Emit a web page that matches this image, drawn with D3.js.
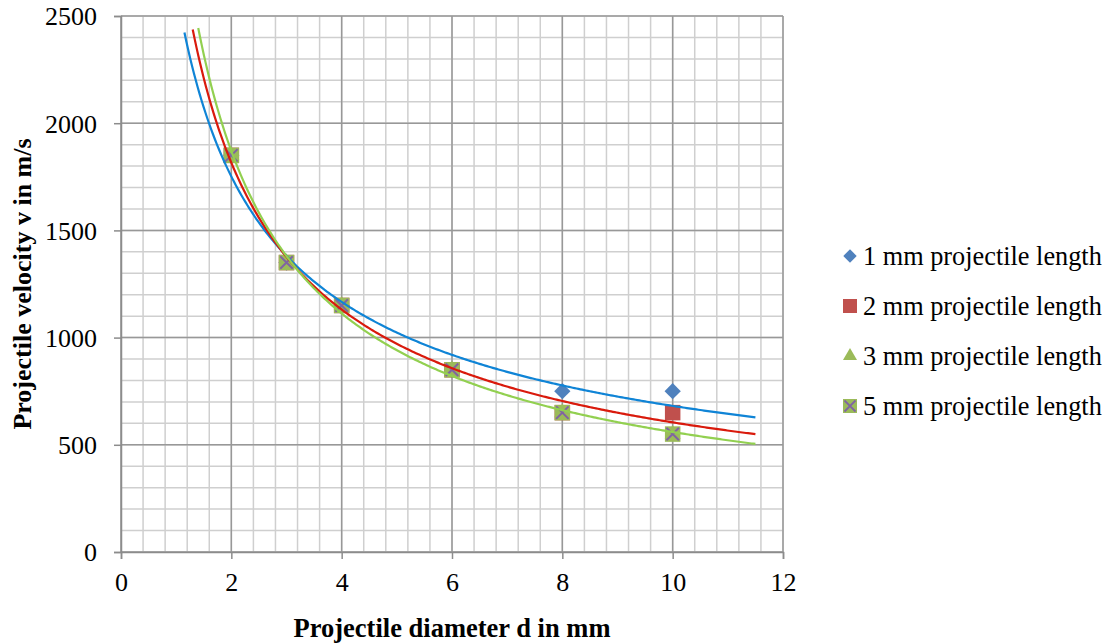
<!DOCTYPE html>
<html>
<head>
<meta charset="utf-8">
<script src="https://cdn.jsdelivr.net/npm/d3@7"></script>
<style>
  html, body { margin: 0; padding: 0; background: #fff; }
  svg { display: block; }
  svg text { font-family: "Liberation Serif", "Times New Roman", serif !important; fill: #000; }
</style>
</head>
<body>
<svg id="chart" width="1112" height="643"></svg>
<script>
// ---- Data ----
const diameters = [2, 3, 4, 6, 8, 10];
const v1mm = [1850, 1350, 1150, 850, 750, 750];
const v2mm = [1850, 1350, 1150, 850, 650, 650];
const v3mm = [1850, 1350, 1150, 850, 650, 550];
const v5mm = [1850, 1350, 1150, 850, 650, 550];
const seriesNames = ["1 mm projectile length", "2 mm projectile length", "3 mm projectile length", "5 mm projectile length"];
const xTicks = [0, 2, 4, 6, 8, 10, 12];
const yTicks = [0, 500, 1000, 1500, 2000, 2500];
// power trendline extents (x from/to) for series 1, 2, 3
const trendFrom = [1.15, 1.3, 1.4];
const trendTo = [11.5, 11.5, 11.5];

// ---- Layout ----
const svg = d3.select("#chart");
const pL = 121, pT = 16, pR = 783, pB = 552;
const x = d3.scaleLinear().domain([0, 12]).range([pL, pR]);
const y = d3.scaleLinear().domain([0, 2500]).range([pB, pT]);

// minor grid
const g = svg.append("g");
const minorX = d3.range(0, 12.0001, 0.4);
const minorY = d3.range(0, 2500.1, 100);
g.selectAll(".mx").data(minorX).enter().append("line")
  .attr("x1", d => x(d)).attr("x2", d => x(d)).attr("y1", pT).attr("y2", pB)
  .attr("stroke", "#cfcfcf").attr("stroke-width", 1.5);
g.selectAll(".my").data(minorY).enter().append("line")
  .attr("y1", d => y(d)).attr("y2", d => y(d)).attr("x1", pL).attr("x2", pR)
  .attr("stroke", "#cfcfcf").attr("stroke-width", 1.5);
// major grid
g.selectAll(".Mx").data(xTicks).enter().append("line")
  .attr("x1", d => x(d)).attr("x2", d => x(d)).attr("y1", pT).attr("y2", pB)
  .attr("stroke", "#989898").attr("stroke-width", 1.5);
g.selectAll(".My").data(yTicks).enter().append("line")
  .attr("y1", d => y(d)).attr("y2", d => y(d)).attr("x1", pL).attr("x2", pR)
  .attr("stroke", "#989898").attr("stroke-width", 1.5);

// axes
const xAxis = d3.axisBottom(x).tickValues(xTicks).tickSize(7).tickPadding(14).tickFormat(d3.format("d"));
const yAxis = d3.axisLeft(y).tickValues(yTicks).tickSize(7).tickPadding(17).tickFormat(d3.format("d"));
const gx = svg.append("g").attr("transform", `translate(0,${pB})`).call(xAxis);
const gy = svg.append("g").attr("transform", `translate(${pL},0)`).call(yAxis);
[gx, gy].forEach(a => {
  a.attr("font-family", "Liberation Serif").attr("font-size", 26);
  a.select(".domain").attr("stroke", "#8c8c8c").attr("stroke-width", 1.5);
  a.selectAll(".tick line").attr("stroke", "#8c8c8c").attr("stroke-width", 1.5);
  a.selectAll("text").style("font-family", "'Liberation Serif', serif").attr("font-size", 26).attr("fill", "#000");
});
gy.selectAll(".tick text").attr("dy", "0.34em");

// power trendlines (least-squares in log-log, like a spreadsheet power trendline)
function powerFit(xs, ys) {
  const lx = xs.map(Math.log), ly = ys.map(Math.log);
  const n = xs.length;
  const sx = d3.sum(lx), sy = d3.sum(ly);
  const sxx = d3.sum(lx, d => d * d);
  const sxy = d3.sum(lx.map((d, i) => d * ly[i]));
  const b = (n * sxy - sx * sy) / (n * sxx - sx * sx);
  const a = Math.exp((sy - b * sx) / n);
  return xx => a * Math.pow(xx, b);
}

// markers
const s = 15.5;
const mk = svg.append("g");
// series 1: blue diamonds
mk.selectAll(".d1").data(diameters).enter().append("path")
  .attr("d", d3.symbol().type(d3.symbolSquare).size(11.5 * 11.5))
  .attr("transform", (d, i) => `translate(${x(d)},${y(v1mm[i])}) rotate(45)`)
  .attr("fill", "#4F81BD");
// series 2: red squares
mk.selectAll(".d2").data(diameters).enter().append("rect")
  .attr("x", d => x(d) - s / 2).attr("y", (d, i) => y(v2mm[i]) - s / 2)
  .attr("width", s).attr("height", s).attr("fill", "#C0504D");
// series 3: green triangles
mk.selectAll(".d3").data(diameters).enter().append("path")
  .attr("d", d3.symbol().type(d3.symbolTriangle).size(110))
  .attr("transform", (d, i) => `translate(${x(d)},${y(v3mm[i])})`)
  .attr("fill", "#9BBB59");
// series 5: green squares with purple X
const g5 = mk.selectAll(".d5").data(diameters).enter().append("g")
  .attr("transform", (d, i) => `translate(${x(d)},${y(v5mm[i])})`);
g5.append("rect").attr("x", -s / 2).attr("y", -s / 2).attr("width", s).attr("height", s).attr("fill", "#9BBB59");
g5.append("path").attr("d", `M${-s/2+1.5},${-s/2+1.5}L${s/2-1.5},${s/2-1.5}M${s/2-1.5},${-s/2+1.5}L${-s/2+1.5},${s/2-1.5}`)
  .attr("stroke", "#8064A2").attr("stroke-width", 2).attr("fill", "none");

const trendData = [v1mm, v2mm, v3mm];
const trendColors = ["#0F84D6", "#D91A0C", "#92D050"];
const line = d3.line().x(d => x(d[0])).y(d => y(d[1])).curve(d3.curveLinear);
trendData.forEach((vals, k) => {
  const f = powerFit(diameters, vals);
  const pts = d3.range(0, 301).map(i => {
    const xx = trendFrom[k] + (trendTo[k] - trendFrom[k]) * i / 300;
    return [xx, f(xx)];
  });
  svg.append("path").datum(pts).attr("d", line)
    .attr("fill", "none").attr("stroke", trendColors[k]).attr("stroke-width", 2.2);
});

// axis titles
svg.append("text").attr("x", (pL + pR) / 2).attr("y", 637)
  .attr("text-anchor", "middle").attr("font-weight", "bold").attr("font-size", 26.5)
  .text("Projectile diameter d in mm");
svg.append("text").attr("transform", `translate(31,${(pT + pB) / 2}) rotate(-90)`)
  .attr("text-anchor", "middle").attr("font-weight", "bold").attr("font-size", 26)
  .text("Projectile velocity v in m/s");

// legend
const lg = svg.append("g").attr("transform", "translate(850,256)");
const rows = lg.selectAll(".row").data(seriesNames).enter().append("g")
  .attr("transform", (d, i) => `translate(0,${i * 50})`);
rows.append("text").attr("x", 13).attr("y", 0).attr("dy", "0.36em").attr("font-size", 26.3).text(d => d);
rows.filter((d, i) => i === 0).append("path")
  .attr("d", d3.symbol().type(d3.symbolSquare).size(9.5 * 9.5)).attr("transform", "rotate(45)").attr("fill", "#4F81BD");
rows.filter((d, i) => i === 1).append("rect").attr("x", -7).attr("y", -7).attr("width", 14).attr("height", 14).attr("fill", "#C0504D");
rows.filter((d, i) => i === 2).append("path")
  .attr("d", d3.symbol().type(d3.symbolTriangle).size(85)).attr("fill", "#9BBB59");
const r4 = rows.filter((d, i) => i === 3);
r4.append("rect").attr("x", -7).attr("y", -7).attr("width", 14).attr("height", 14).attr("fill", "#9BBB59");
r4.append("path").attr("d", "M-5.5,-5.5L5.5,5.5M5.5,-5.5L-5.5,5.5").attr("stroke", "#8064A2").attr("stroke-width", 1.8);
</script>
</body>
</html>
